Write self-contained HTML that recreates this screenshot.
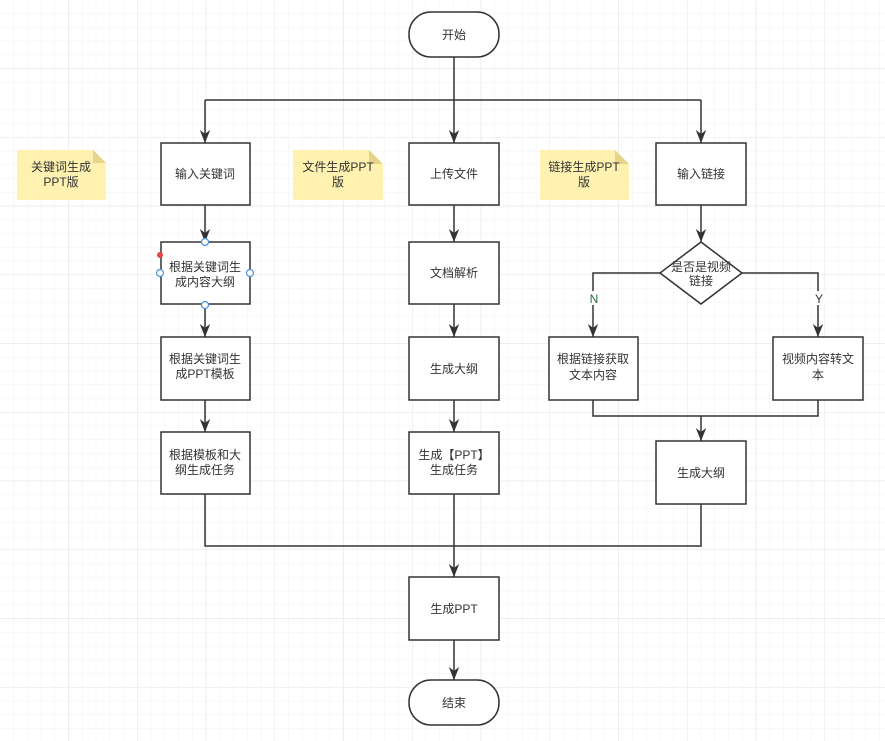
<!DOCTYPE html>
<html><head><meta charset="utf-8"><style>
html,body{margin:0;padding:0;background:#fff}
svg{display:block}
text{font-family:"Liberation Sans","Noto Sans CJK SC",sans-serif;font-size:12px;fill:#333;text-anchor:middle}
</style></head><body>
<svg width="885" height="741" viewBox="0 0 885 741" xmlns="http://www.w3.org/2000/svg">
<defs>
<pattern id="g" width="13.75" height="13.75" patternUnits="userSpaceOnUse" x="0" y="0">
<path d="M13.75 0V13.75H0" fill="none" stroke="#f0f0f0" stroke-width="1"/>
</pattern>
<pattern id="G" width="68.75" height="68.75" patternUnits="userSpaceOnUse" x="0" y="0">
<path d="M68.75 0V68.75H0" fill="none" stroke="#e4e4e4" stroke-width="1"/>
</pattern>
<marker id="b" markerWidth="13" markerHeight="13" refX="10" refY="5" orient="auto" markerUnits="userSpaceOnUse" viewBox="0 0 10 10">
<path d="M0 1L10 5L0 9L3 5Z" fill="#333"/>
</marker>
</defs>
<rect width="885" height="741" fill="url(#g)"/>
<rect width="885" height="741" fill="url(#G)"/>
<g fill="none" stroke="#333" stroke-width="1.5">
<path d="M454 57V143" marker-end="url(#b)"/>
<path d="M205 100H701"/>
<path d="M205 100V143" marker-end="url(#b)"/>
<path d="M701 100V143" marker-end="url(#b)"/>
<path d="M205 205V242" marker-end="url(#b)"/>
<path d="M205 304V337" marker-end="url(#b)"/>
<path d="M205 400V432" marker-end="url(#b)"/>
<path d="M454 205V242" marker-end="url(#b)"/>
<path d="M454 304V337" marker-end="url(#b)"/>
<path d="M454 400V432" marker-end="url(#b)"/>
<path d="M701 205V242" marker-end="url(#b)"/>
<path d="M660 273H593V337" marker-end="url(#b)"/>
<path d="M742 273H818V337" marker-end="url(#b)"/>
<path d="M593 400V416H818V400"/>
<path d="M701 416V441" marker-end="url(#b)"/>
<path d="M205 494V546H701V504"/>
<path d="M454 494V577" marker-end="url(#b)"/>
<path d="M454 640V680" marker-end="url(#b)"/>
</g>
<g fill="#fff" stroke="#333" stroke-width="1.5">
<rect x="409" y="12" width="90" height="45" rx="22"/>
<rect x="409" y="680" width="90" height="45" rx="22"/>
<rect x="161" y="143" width="89" height="62"/>
<rect x="161" y="242" width="89" height="62"/>
<rect x="161" y="337" width="89" height="63"/>
<rect x="161" y="432" width="89" height="62"/>
<rect x="409" y="143" width="90" height="62"/>
<rect x="409" y="242" width="90" height="62"/>
<rect x="409" y="337" width="90" height="63"/>
<rect x="409" y="432" width="90" height="62"/>
<rect x="656" y="143" width="90" height="62"/>
<path d="M701 242L742 273L701 304L660 273Z"/>
<rect x="549" y="337" width="89" height="63"/>
<rect x="773" y="337" width="90" height="63"/>
<rect x="656" y="441" width="90" height="63"/>
<rect x="409" y="577" width="90" height="63"/>
</g>
<g>
<path d="M17 150H93L106 163V200H17Z" fill="#fff1b0"/><path d="M93 150L106 163H93Z" fill="#e6d48a"/>
<path d="M293 150H369L383 164V200H293Z" fill="#fff1b0"/><path d="M369 150L383 164H369Z" fill="#e6d48a"/>
<path d="M540 150H615L629 164V200H540Z" fill="#fff1b0"/><path d="M615 150L629 164H615Z" fill="#e6d48a"/>
</g>
<g fill="#fff" stroke="#4a90e2" stroke-width="1.2">
<circle cx="205" cy="242" r="3.5"/><circle cx="205" cy="305" r="3.5"/>
<circle cx="160" cy="273" r="3.5"/><circle cx="250" cy="273" r="3.5"/>
</g>
<circle cx="160" cy="255" r="3" fill="#e84545"/>
<text x="454" y="39">开始</text>
<text x="454" y="707">结束</text>
<text x="205" y="178">输入关键词</text>
<text x="205" y="271">根据关键词生</text><text x="205" y="286">成内容大纲</text>
<text x="205" y="363">根据关键词生</text><text x="205" y="378">成PPT模板</text>
<text x="205" y="459">根据模板和大</text><text x="205" y="474">纲生成任务</text>
<text x="454" y="178">上传文件</text>
<text x="454" y="277">文档解析</text>
<text x="454" y="373">生成大纲</text>
<text x="454" y="459">生成【PPT】</text><text x="454" y="474">生成任务</text>
<text x="701" y="178">输入链接</text>
<text x="701" y="271">是否是视频</text><text x="701" y="285">链接</text>
<text x="593" y="363">根据链接获取</text><text x="593" y="379">文本内容</text>
<text x="818" y="363">视频内容转文</text><text x="818" y="379">本</text>
<text x="701" y="477">生成大纲</text>
<text x="454" y="613">生成PPT</text>
<text x="61" y="171">关键词生成</text><text x="61" y="186">PPT版</text>
<text x="338" y="171">文件生成PPT</text><text x="338" y="186">版</text>
<text x="584" y="171">链接生成PPT</text><text x="584" y="186">版</text>
<rect x="586" y="291" width="14" height="14" fill="#fff"/>
<text x="594" y="303" style="fill:#2b6f3a">N</text>
<rect x="811" y="291" width="14" height="14" fill="#fff"/>
<text x="819" y="303">Y</text>
</svg>
</body></html>
